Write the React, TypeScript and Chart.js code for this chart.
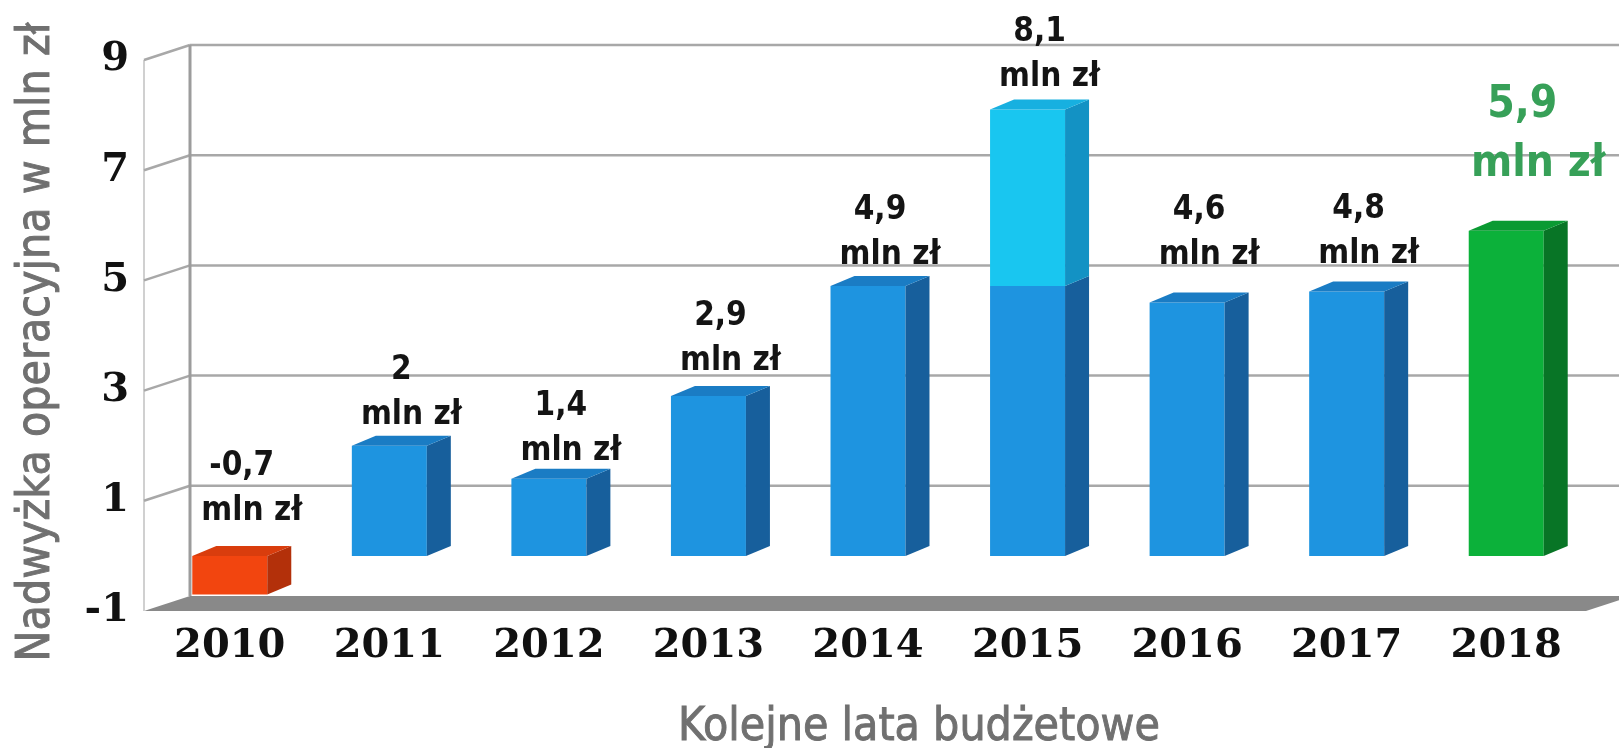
import { useEffect, useRef } from 'react';
import { Chart, registerables } from 'chart.js';

Chart.register(...registerables);

// ---- data ----
const years = ['2010', '2011', '2012', '2013', '2014', '2015', '2016', '2017', '2018'];
const baseValues = [-0.7, 2, 1.4, 2.9, 4.9, 4.9, 4.6, 4.8, 5.9];
const increase2015 = [0, 0, 0, 0, 0, 3.2, 0, 0, 0];
const valueLabels = ['-0,7', '2', '1,4', '2,9', '4,9', '8,1', '4,6', '4,8', '5,9'];
const unitLabel = 'mln zł';
const yTicks = [-1, 1, 3, 5, 7, 9];
const yTitle = 'Nadwyżka operacyjna w mln zł';
const xTitle = 'Kolejne lata budżetowe';

// ---- styles ----
const COND = "'DejaVu Sans Condensed', 'Liberation Sans Narrow', sans-serif";
const SERIF = "'DejaVu Serif', 'Liberation Serif', serif";
const RED = { face: '#f2450f', side: '#b3300a', top: '#d93d0d' };
const BLUE = { face: '#1e94e0', side: '#175f9c', top: '#1a7cc4' };
const CYAN = { face: '#19c6f0', side: '#1392c4', top: '#17b0e0' };
const GREEN = { face: '#0cb13a', side: '#087526', top: '#0a9a32' };
const TITLE_GRAY = '#707070';
const WALL_DX = 46;
const WALL_DY = -15;
const WALL_FRONT_SHIFT = -6;
const BAR_DX = 24;
const BAR_DY = -10;
// extra vertical lift (px) of each value label, as placed in the original
const labelLift = [14, 0, -3, 5, 0, 2, 17, 7, 0];

function baseStyle(i: number) {
  if (baseValues[i] < 0) return RED;
  if (i === years.length - 1) return GREEN;
  return BLUE;
}

function heavyText(ctx: CanvasRenderingContext2D, text: string, x: number, y: number) {
  ctx.fillText(text, x, y);
  ctx.strokeText(text, x, y);
}

const threeDPlugin = {
  id: 'threeD',
  beforeDatasetsDraw(chart: any) {
    const { ctx, chartArea: a } = chart;
    const y = chart.scales.y;
    const yb = y.getPixelForValue(yTicks[0]);
    const yt = y.getPixelForValue(yTicks[yTicks.length - 1]);
    const fx = a.left + WALL_FRONT_SHIFT;
    const bx = fx + WALL_DX;
    ctx.save();
    // floor
    ctx.fillStyle = '#898989';
    ctx.beginPath();
    ctx.moveTo(fx, yb);
    ctx.lineTo(bx, yb + WALL_DY);
    ctx.lineTo(a.right + WALL_DX, yb + WALL_DY);
    ctx.lineTo(a.right, yb);
    ctx.closePath();
    ctx.fill();
    // front edge of left wall
    ctx.strokeStyle = '#d0d0d0';
    ctx.lineWidth = 2;
    ctx.beginPath();
    ctx.moveTo(fx, yt);
    ctx.lineTo(fx, yb);
    ctx.stroke();
    // grid lines on back wall + slanted lines on left wall
    ctx.strokeStyle = '#a8a8a8';
    ctx.lineWidth = 2.5;
    for (const v of yTicks) {
      if (v === yTicks[0]) continue;
      const p = y.getPixelForValue(v);
      ctx.beginPath();
      ctx.moveTo(bx, p + WALL_DY);
      ctx.lineTo(chart.width, p + WALL_DY);
      ctx.stroke();
      ctx.beginPath();
      ctx.moveTo(fx, p);
      ctx.lineTo(bx, p + WALL_DY);
      ctx.stroke();
    }
    // back vertical edge
    ctx.strokeStyle = '#9c9c9c';
    ctx.lineWidth = 3;
    ctx.beginPath();
    ctx.moveTo(bx, yt + WALL_DY);
    ctx.lineTo(bx, yb + WALL_DY);
    ctx.stroke();
    ctx.restore();
  },
  afterDatasetsDraw(chart: any) {
    const { ctx } = chart;
    const metas = [chart.getDatasetMeta(0), chart.getDatasetMeta(1)];
    ctx.save();
    for (let i = 0; i < years.length; i++) {
      let topY = Infinity;
      let cx = 0;
      const segs: any[] = [];
      metas.forEach((m, d) => {
        const el = m.data[i];
        const val = d === 0 ? baseValues[i] : increase2015[i];
        if (!el || val === 0) return;
        const top = Math.min(el.y, el.base);
        const bot = Math.max(el.y, el.base);
        const style = d === 0 ? baseStyle(i) : CYAN;
        segs.push({ el, top, bot, style });
        topY = Math.min(topY, top);
        cx = el.x;
      });
      segs.forEach((s, k) => {
        const w = s.el.width;
        const l = s.el.x - w / 2;
        const r = s.el.x + w / 2;
        ctx.fillStyle = s.style.side;
        ctx.beginPath();
        ctx.moveTo(r, s.top);
        ctx.lineTo(r + BAR_DX, s.top + BAR_DY);
        ctx.lineTo(r + BAR_DX, s.bot + BAR_DY);
        ctx.lineTo(r, s.bot);
        ctx.closePath();
        ctx.fill();
        if (k === segs.length - 1) {
          ctx.fillStyle = s.style.top;
          ctx.beginPath();
          ctx.moveTo(l, s.top);
          ctx.lineTo(l + BAR_DX, s.top + BAR_DY);
          ctx.lineTo(r + BAR_DX, s.top + BAR_DY);
          ctx.lineTo(r, s.top);
          ctx.closePath();
          ctx.fill();
        }
      });
      // value labels
      const highlight = i === years.length - 1;
      const lift = labelLift[i];
      ctx.textAlign = 'center';
      ctx.textBaseline = 'middle';
      if (highlight) {
        ctx.fillStyle = '#37a058';
        ctx.font = `bold 44px ${COND}`;
        ctx.fillText(valueLabels[i], cx + 16, topY - 125 - lift);
        ctx.fillText(unitLabel, cx + 32, topY - 66 - lift);
      } else {
        ctx.fillStyle = '#141414';
        ctx.font = `bold 33px ${COND}`;
        ctx.fillText(valueLabels[i], cx + 12, topY - 75 - lift);
        ctx.fillText(unitLabel, cx + 22, topY - 30 - lift);
      }
    }
    // axis titles
    ctx.fillStyle = TITLE_GRAY;
    ctx.strokeStyle = TITLE_GRAY;
    ctx.lineWidth = 0.9;
    ctx.font = `46px ${COND}`;
    ctx.textAlign = 'center';
    ctx.textBaseline = 'alphabetic';
    heavyText(ctx, xTitle, 919, 740);
    ctx.save();
    ctx.translate(37, 342);
    ctx.rotate(-Math.PI / 2);
    ctx.textBaseline = 'middle';
    heavyText(ctx, yTitle, 0, 0);
    ctx.restore();
    ctx.restore();
  },
};

export default function App() {
  const ref = useRef<HTMLCanvasElement>(null);
  useEffect(() => {
    document.body.style.margin = '0';
    const canvas = ref.current!;
    const chart = new Chart(canvas, {
      type: 'bar',
      data: {
        labels: years,
        datasets: [
          {
            label: 'Nadwyżka',
            data: baseValues,
            backgroundColor: baseValues.map((_, i) => baseStyle(i).face),
            borderWidth: 0,
            barPercentage: 0.47,
            categoryPercentage: 1,
            stack: 's',
          },
          {
            label: 'Wzrost',
            data: increase2015,
            backgroundColor: CYAN.face,
            borderWidth: 0,
            barPercentage: 0.47,
            categoryPercentage: 1,
            stack: 's',
          },
        ],
      },
      options: {
        responsive: false,
        animation: false,
        layout: { padding: { top: 60, right: 33, bottom: 0, left: 0 } },
        plugins: { legend: { display: false }, tooltip: { enabled: false } },
        scales: {
          x: {
            stacked: true,
            grid: { display: false, drawTicks: false },
            border: { display: false },
            ticks: {
              color: '#111111',
              font: { family: SERIF, size: 40, weight: 'bold' },
              padding: 12,
              maxRotation: 0,
              autoSkip: false,
            },
            afterFit: (s: any) => {
              s.height = 137;
            },
          },
          y: {
            stacked: true,
            min: -1,
            max: 9,
            grid: { display: false, drawTicks: false },
            border: { display: false },
            afterBuildTicks: (s: any) => {
              s.ticks = yTicks.map((v) => ({ value: v }));
            },
            ticks: {
              color: '#111111',
              font: { family: SERIF, size: 40, weight: 'bold' },
              padding: 21,
              callback: (v: any) => String(v),
            },
            afterFit: (s: any) => {
              s.width = 150;
            },
          },
        },
      },
      plugins: [threeDPlugin],
    });
    return () => chart.destroy();
  }, []);
  return <canvas ref={ref} width={1619} height={748} style={{ display: 'block' }} />;
}
